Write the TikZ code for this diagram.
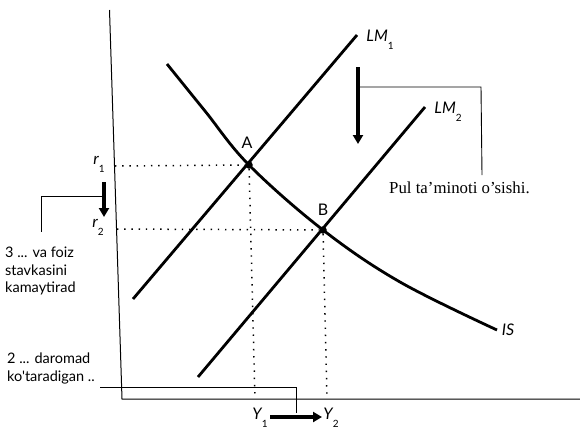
\documentclass[tikz,border=0pt]{standalone}
\usepackage{fontspec}
\setmainfont{Liberation Serif}
\newfontfamily\lblfont{Lato}
\newfontfamily\notefont{Lato}
\usetikzlibrary{arrows.meta}
\newcommand\sublab[2]{#1\raisebox{-0.5em}{\fontsize{10}{10}\selectfont\upshape #2}}
\begin{document}
\begin{tikzpicture}[x=1pt,y=-1pt,
  curve/.style={line width=2.8pt},
  axisline/.style={line width=1pt},
  guide/.style={line width=1.5pt, dash pattern=on 1.4pt off 5.8pt},
  callout/.style={line width=0.9pt},
  shiftarrow/.style={line width=3.8pt,-{Triangle[width=10pt,length=9pt]}},
  lbl/.style={font=\lblfont\itshape\fontsize{16}{16}\selectfont, inner sep=0pt},
  ptlabel/.style={font=\lblfont\fontsize{16}{16}\selectfont, inner sep=0pt},
  note/.style={font=\notefont\fontsize{14.5}{17.5}\selectfont, inner sep=0pt, align=left},
  serifnote/.style={font=\fontsize{16.8}{17}\selectfont, inner sep=0pt},
  pt/.style={circle, fill, inner sep=0pt, minimum size=7.5pt}]
\useasboundingbox (0,0) rectangle (580,431);

% axes
\coordinate (ytop) at (109.5,10);
\coordinate (origin) at (122,399);
\coordinate (xend) at (580,399);
\draw[axisline] (ytop) -- (origin) -- (xend);

% curves
\coordinate (lm1s) at (133,299);
\coordinate (lm1e) at (357,35);
\coordinate (lm2s) at (198,377);
\coordinate (lm2e) at (425,107);
\draw[curve] (lm1s) -- (lm1e);
\draw[curve] (lm2s) -- (lm2e);
\draw[curve] plot[smooth, tension=0.6] coordinates {(167,64) (205,111) (249,165) (323,230) (400,282) (497,330)};

% equilibrium points
\node[pt] (A) at (249,165) {};
\node[pt] (B) at (323,230) {};
\node[ptlabel] (Alab) at (247,143) {A};
\node[ptlabel] (Blab) at (323,210) {B};

% guides
\coordinate (ar1) at (115,166);
\coordinate (ar2) at (117,229);
\coordinate (af) at (255,399);
\coordinate (bf) at (327,399);
\draw[guide] (ar1) -- (A);
\draw[guide] (ar2) -- (B);
\draw[guide] (A) -- (af);
\draw[guide] (B) -- (bf);

% axis labels
\node[lbl] (r1) at (99,164) {\sublab{r}{1}};
\node[lbl] (r2) at (98,227) {\sublab{r}{2}};
\node[lbl] (y1) at (260,418) {\sublab{Y}{1}};
\node[lbl] (y2) at (331,418) {\sublab{Y}{2}};
\node[lbl] (lm1) at (380,40) {\sublab{LM}{1}};
\node[lbl] (lm2) at (448,112) {\sublab{LM}{2}};
\node[lbl] (is) at (508,330) {IS};

% shift arrows
\coordinate (ma) at (358,67);
\coordinate (mb) at (358,144);
\draw[shiftarrow] (ma) -- (mb);
\coordinate (ra) at (104,182);
\coordinate (rb) at (104,217);
\draw[shiftarrow] (ra) -- (rb);
\coordinate (ya) at (270,417);
\coordinate (yb) at (322,417);
\draw[shiftarrow] (ya) -- (yb);

% notes
\node[serifnote, anchor=base west] (pul) at (389,193) {Pul ta'minoti o'sishi.};
\node[note, anchor=north west] (n3) at (5,247) {3 ... va foiz\\stavkasini\\kamaytirad};
\node[note, anchor=north west] (n2) at (7,353) {2 ... daromad\\ko'taradigan ..};

% callouts
\coordinate (c1a) at (358,87);
\coordinate (c1b) at (481,87);
\coordinate (c1c) at (482,175);
\draw[callout] (c1a) -- (c1b) -- (c1c);
\coordinate (c3a) at (103,196);
\coordinate (c3b) at (41,196);
\coordinate (c3c) at (41,232);
\draw[callout] (c3a) -- (c3b) -- (c3c);
\coordinate (c2a) at (100,387);
\coordinate (c2b) at (296,387);
\coordinate (c2c) at (296,413);
\draw[callout] (c2a) -- (c2b) -- (c2c);
\end{tikzpicture}
\end{document}
